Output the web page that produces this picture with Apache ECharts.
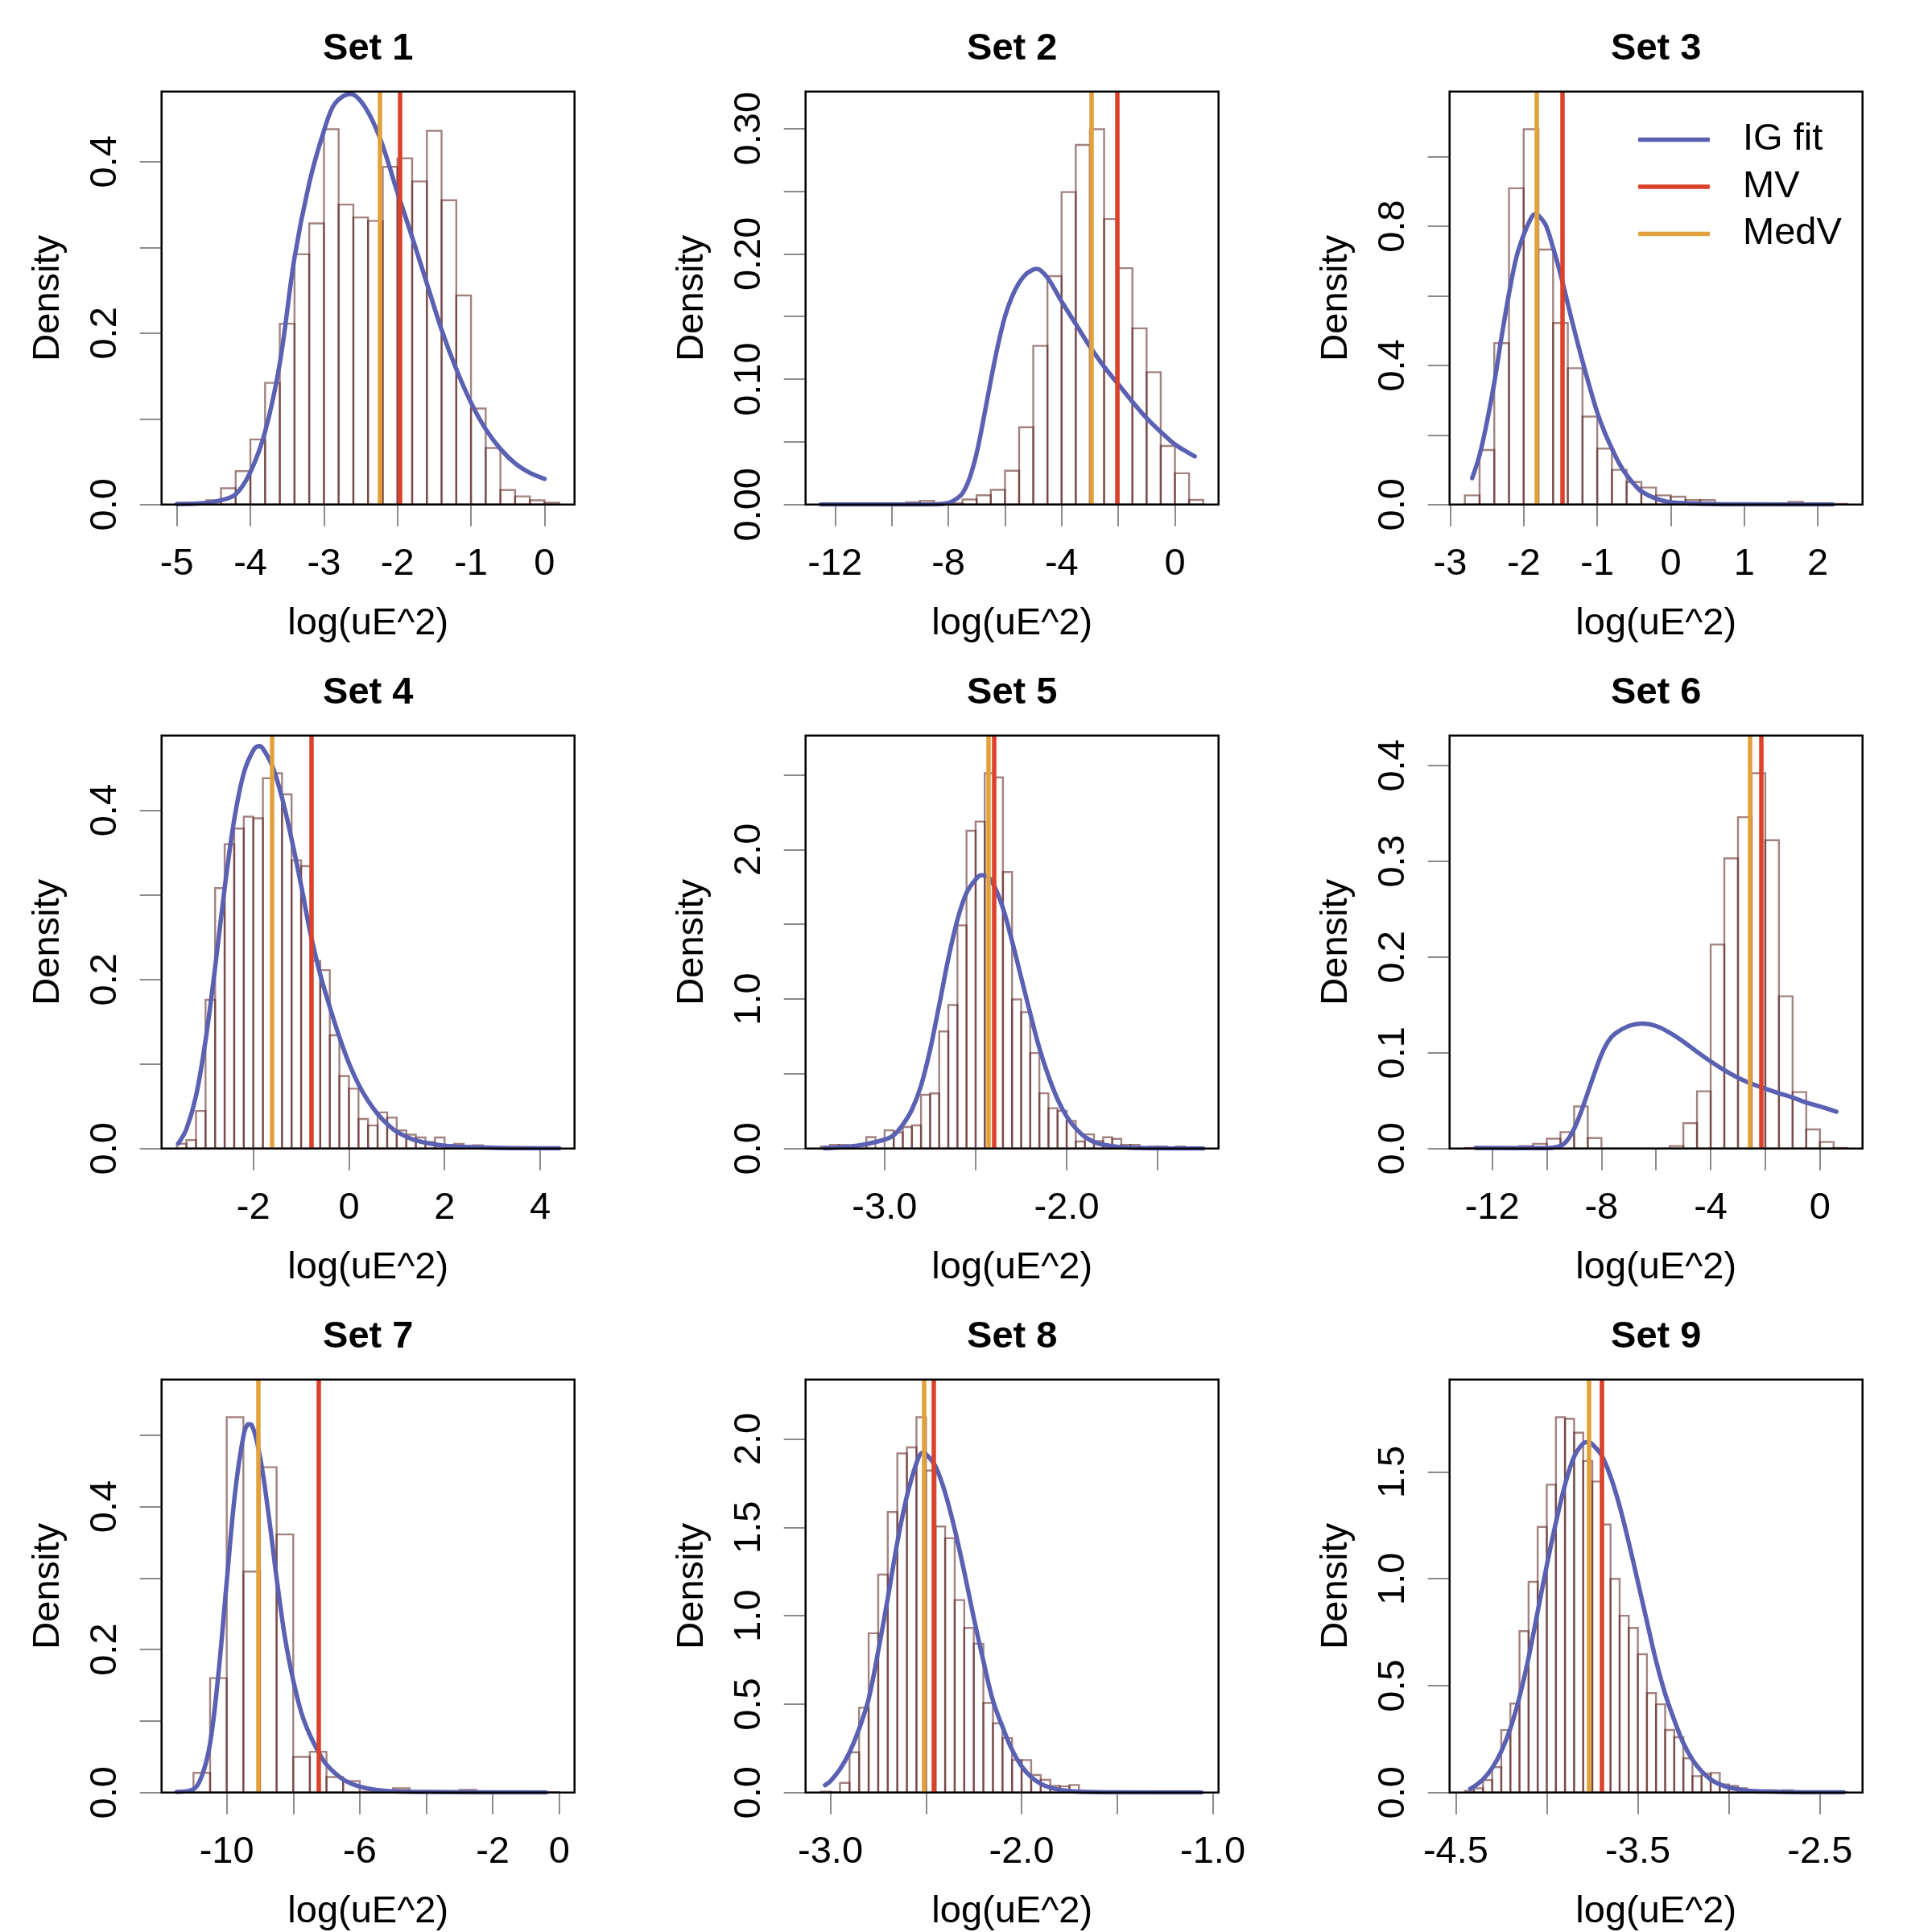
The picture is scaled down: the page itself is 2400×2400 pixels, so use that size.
<!DOCTYPE html>
<html>
<head>
<meta charset="utf-8">
<script src="https://cdn.jsdelivr.net/npm/echarts@6/dist/echarts.min.js"></script>
<style>
html,body{margin:0;padding:0;background:#ffffff;}
#chart{width:2400px;height:2400px;}
</style>
</head>
<body>
<div id="chart"></div>
<script>
// ---------------- DATA ----------------
// Set 1
const set1BinStart = -5, set1BinWidth = 0.2;
const set1Density = [0.002,0.002,0.005,0.019,0.039,0.076,0.142,0.211,0.292,0.328,0.438,0.350,0.335,0.331,0.394,0.404,0.377,0.436,0.355,0.244,0.112,0.066,0.017,0.0096,0.005,0.0023];
const set1CurveX = [-5.0,-4.6,-4.4,-4.2,-4.0,-3.8,-3.6,-3.4,-3.2,-3.0,-2.85,-2.64,-2.45,-2.24,-2.0,-1.8,-1.6,-1.4,-1.2,-1.0,-0.8,-0.6,-0.4,-0.2,0.0];
const set1CurveY = [0.0005,0.002,0.005,0.012,0.038,0.085,0.165,0.288,0.375,0.436,0.468,0.479,0.465,0.428,0.364,0.312,0.258,0.204,0.158,0.119,0.088,0.065,0.048,0.037,0.030];
const set1MV = -1.97, set1MedV = -2.24;
const set1XTicks = [-5,-4,-3,-2,-1,0], set1XLabels = [-5,-4,-3,-2,-1,0];
const set1YTicks = [0,0.1,0.2,0.3,0.4], set1YLabels = [0,0.2,0.4];

// Set 2
const set2BinStart = -12.5, set2BinWidth = 0.5;
const set2Density = [0.0005,0,0,0,0,0,0.0018,0.003,0.0008,0.001,0.004,0.0074,0.0118,0.027,0.0617,0.1266,0.1823,0.2493,0.2869,0.2995,0.2278,0.1886,0.1406,0.1056,0.0468,0.025,0.0037];
const set2CurveX = [-12.5,-10,-8.5,-8.0,-7.75,-7.5,-7.25,-7.0,-6.75,-6.5,-6.25,-6.0,-5.75,-5.5,-5.25,-5.0,-4.9,-4.75,-4.5,-4.25,-4.0,-3.5,-3.0,-2.5,-2.0,-1.5,-1.0,-0.5,0,0.5,0.7];
const set2CurveY = [0,0,0.0002,0.0013,0.004,0.009,0.021,0.041,0.069,0.099,0.127,0.150,0.166,0.177,0.184,0.1875,0.188,0.187,0.181,0.172,0.162,0.144,0.126,0.110,0.096,0.082,0.069,0.058,0.048,0.041,0.0385];
const set2MV = -2.034, set2MedV = -2.945;
const set2XTicks = [-12,-10,-8,-6,-4,-2,0], set2XLabels = [-12,-8,-4,0];
const set2YTicks = [0,0.05,0.1,0.15,0.2,0.25,0.3], set2YLabels = [0,0.1,0.2,0.3];

// Set 3
const set3BinStart = -2.8, set3BinWidth = 0.2;
const set3Density = [0.0265,0.157,0.464,0.909,1.079,0.733,0.522,0.392,0.253,0.161,0.100,0.065,0.049,0.0265,0.0227,0.013,0.013,0.002,0,0,0,0,0.0076,0,0,0.002];
const set3CurveX = [-2.7,-2.6,-2.5,-2.4,-2.3,-2.2,-2.1,-2.0,-1.9,-1.85,-1.8,-1.7,-1.6,-1.5,-1.4,-1.3,-1.2,-1.1,-1.0,-0.9,-0.8,-0.7,-0.6,-0.5,-0.4,-0.2,0,0.5,1.0,2.2];
const set3CurveY = [0.076,0.142,0.237,0.350,0.483,0.606,0.710,0.775,0.823,0.835,0.831,0.803,0.738,0.663,0.577,0.492,0.412,0.336,0.265,0.208,0.161,0.118,0.085,0.059,0.038,0.017,0.0066,0.002,0.0005,0.0];
const set3MV = -1.482, set3MedV = -1.829;
const set3XTicks = [-3,-2,-1,0,1,2], set3XLabels = [-3,-2,-1,0,1,2];
const set3YTicks = [0,0.2,0.4,0.6,0.8,1.0], set3YLabels = [0,0.4,0.8];

// Set 4
const set4BinStart = -3.6, set4BinWidth = 0.2;
const set4Density = [0.0058,0.010,0.0444,0.176,0.308,0.360,0.3785,0.3925,0.3906,0.438,0.444,0.419,0.341,0.334,0.222,0.211,0.134,0.0857,0.0709,0.035,0.0273,0.0428,0.0366,0.0214,0.0164,0.0132,0.0078,0.0132,0.0039,0.0055,0.0031,0.0039,0.002,0.0016,0.001,0.0008,0.0005,0.0005,0.0004,0.0004];
const set4CurveX = [-3.57,-3.4,-3.2,-3.0,-2.8,-2.6,-2.4,-2.2,-2.0,-1.88,-1.8,-1.6,-1.4,-1.2,-1.0,-0.8,-0.6,-0.4,-0.2,0,0.2,0.4,0.6,0.8,1.0,1.4,2.0,3.0,4.4];
const set4CurveY = [0.006,0.023,0.062,0.128,0.214,0.308,0.389,0.444,0.471,0.476,0.473,0.452,0.415,0.366,0.3115,0.253,0.206,0.1674,0.132,0.101,0.076,0.0565,0.041,0.029,0.020,0.0097,0.0035,0.001,0.0003];
const set4MV = -0.792, set4MedV = -1.606;
const set4XTicks = [-2,0,2,4], set4XLabels = [-2,0,2,4];
const set4YTicks = [0,0.1,0.2,0.3,0.4], set4YLabels = [0,0.2,0.4];

// Set 5
const set5BinStart = -3.35, set5BinWidth = 0.05;
const set5Density = [0.014,0.025,0.025,0,0.025,0.077,0,0.122,0.108,0.144,0.155,0.36,0.369,0.784,0.960,1.493,2.126,2.187,2.511,2.482,1.850,0.998,0.912,0.639,0.370,0.27,0.252,0.185,0.047,0.095,0.05,0.0755,0.065,0.025,0.025,0.005,0.014,0.014,0,0.014,0.005,0.002];
const set5CurveX = [-3.33,-3.2,-3.1,-3.0,-2.95,-2.9,-2.85,-2.8,-2.75,-2.7,-2.65,-2.6,-2.55,-2.5,-2.47,-2.44,-2.4,-2.35,-2.3,-2.25,-2.2,-2.15,-2.1,-2.05,-2.0,-1.95,-1.9,-1.85,-1.8,-1.7,-1.6,-1.5,-1.25];
const set5CurveY = [0.002,0.012,0.03,0.06,0.09,0.16,0.26,0.42,0.66,0.96,1.27,1.53,1.71,1.80,1.828,1.824,1.762,1.608,1.388,1.145,0.903,0.672,0.485,0.330,0.215,0.135,0.078,0.044,0.026,0.009,0.004,0.001,0];
const set5MV = -2.404, set5MedV = -2.433;
const set5XTicks = [-3,-2.5,-2,-1.5], set5XLabels = [-3,-2];
const set5YTicks = [0,0.5,1,1.5,2,2.5], set5YLabels = [0,1,2];

// Set 6
const set6BinStart = -13, set6BinWidth = 0.5;
const set6Density = [0.0007,0.0005,0.0005,0.0007,0.0027,0.005,0.0103,0.0172,0.044,0.011,0,0,0,0,0,0.0027,0.0265,0.0598,0.213,0.303,0.346,0.392,0.322,0.159,0.059,0.020,0.0069,0.0007];
const set6CurveX = [-12.6,-10.0,-9.5,-9.25,-9.0,-8.75,-8.5,-8.25,-8.0,-7.75,-7.5,-7.0,-6.5,-6.0,-5.5,-5.0,-4.5,-4.0,-3.5,-3.0,-2.5,-2.0,-1.5,-1.0,-0.5,0,0.5,0.6];
const set6CurveY = [0.0007,0.0005,0.0027,0.0086,0.0206,0.0378,0.0584,0.079,0.098,0.112,0.120,0.128,0.1306,0.128,0.121,0.1117,0.101,0.091,0.0818,0.0739,0.0677,0.0625,0.0577,0.0533,0.0481,0.044,0.0395,0.0385];
const set6MV = -2.137, set6MedV = -2.568;
const set6XTicks = [-12,-10,-8,-6,-4,-2,0], set6XLabels = [-12,-8,-4,0];
const set6YTicks = [0,0.1,0.2,0.3,0.4], set6YLabels = [0,0.1,0.2,0.3,0.4];

// Set 7
const set7BinStart = -11.5, set7BinWidth = 0.5;
const set7Density = [0.001,0.0276,0.160,0.525,0.309,0.455,0.361,0.0498,0.0571,0.0217,0.0161,0.001,0,0.006,0,0,0,0.0037,0,0,0,0,0.0005];
const set7CurveX = [-11.5,-11.0,-10.75,-10.5,-10.25,-10.0,-9.75,-9.5,-9.35,-9.25,-9.0,-8.75,-8.5,-8.25,-8.0,-7.75,-7.5,-7.25,-7.0,-6.5,-6.0,-5.5,-5.0,-4.0,-0.4];
const set7CurveY = [0.001,0.0046,0.023,0.069,0.166,0.295,0.419,0.498,0.515,0.514,0.470,0.392,0.300,0.217,0.157,0.111,0.0806,0.0576,0.0392,0.0184,0.0083,0.0037,0.0018,0.0009,0.0];
const set7MV = -7.236, set7MedV = -9.05;
const set7XTicks = [-10,-8,-6,-4,-2,0], set7XLabels = [-10,-6,-2,0];
const set7YTicks = [0,0.1,0.2,0.3,0.4,0.5], set7YLabels = [0,0.2,0.4];

// Set 8
const set8BinStart = -3.05, set8BinWidth = 0.05;
const set8Density = [0.005,0.002,0.055,0.228,0.48,0.901,1.233,1.587,1.918,1.952,2.123,1.821,1.505,1.438,1.089,0.931,0.842,0.507,0.392,0.308,0.184,0.184,0.099,0.072,0.038,0.035,0.043,0.006,0.002,0.002,0,0,0,0,0,0,0,0,0,0];
const set8CurveX = [-3.028,-3.0,-2.95,-2.9,-2.85,-2.8,-2.75,-2.7,-2.65,-2.6,-2.55,-2.52,-2.5,-2.45,-2.4,-2.35,-2.3,-2.25,-2.2,-2.15,-2.1,-2.05,-2.0,-1.95,-1.9,-1.85,-1.8,-1.7,-1.5,-1.06];
const set8CurveY = [0.042,0.065,0.132,0.228,0.36,0.53,0.80,1.099,1.415,1.676,1.862,1.92,1.914,1.844,1.695,1.490,1.248,0.987,0.745,0.52,0.372,0.242,0.149,0.0875,0.050,0.028,0.015,0.005,0.001,0.0];
const set8MV = -2.461, set8MedV = -2.511;
const set8XTicks = [-3,-2.5,-2,-1.5,-1], set8XLabels = [-3,-2,-1];
const set8YTicks = [0,0.5,1,1.5,2], set8YLabels = [0,0.5,1,1.5,2];

// Set 9
const set9BinStart = -4.45, set9BinWidth = 0.05;
const set9Density = [0.0077,0.020,0.0585,0.1186,0.2926,0.416,0.755,0.986,1.243,1.44,1.756,1.748,1.683,1.551,1.455,1.254,1.0,0.827,0.770,0.647,0.465,0.413,0.293,0.259,0.160,0.077,0.088,0.092,0.0385,0.031,0.020,0.0123,0.0077,0.011,0.0077,0.011,0.0046,0.0046,0.0015,0.0015,0,0.0015];
const set9CurveX = [-4.42,-4.4,-4.35,-4.3,-4.25,-4.2,-4.15,-4.1,-4.05,-4.0,-3.95,-3.9,-3.85,-3.8,-3.77,-3.75,-3.7,-3.65,-3.6,-3.55,-3.5,-3.45,-3.4,-3.35,-3.3,-3.25,-3.2,-3.15,-3.1,-3.05,-3.0,-2.9,-2.8,-2.6,-2.37];
const set9CurveY = [0.018,0.028,0.062,0.115,0.193,0.30,0.447,0.631,0.847,1.063,1.263,1.44,1.571,1.633,1.640,1.629,1.579,1.478,1.34,1.17,0.986,0.80,0.616,0.462,0.339,0.231,0.154,0.100,0.0616,0.0385,0.023,0.009,0.0046,0.0015,0.0008];
const set9MV = -3.704, set9MedV = -3.766;
const set9XTicks = [-4.5,-4,-3.5,-3,-2.5], set9XLabels = [-4.5,-3.5,-2.5];
const set9YTicks = [0,0.5,1,1.5], set9YLabels = [0,0.5,1,1.5];

const setTitles = ['Set 1','Set 2','Set 3','Set 4','Set 5','Set 6','Set 7','Set 8','Set 9'];
const xLabelDecimals = [0,0,0,0,1,0,0,1,1];
const yLabelDecimals = [1,2,1,1,1,1,1,1,1];
const legendNames = ['IG fit','MV','MedV'];

// ---------------- STYLE / LAYOUT ----------------
const FONT = 'Liberation Sans, Arial, Helvetica, sans-serif';
const BLUE = '#5A61B3', RED = '#DD4129', ORANGE = '#E2A13A';
const BAR_STROKE = 'rgba(88,30,26,0.55)';
const PANEL = 800, BOX_L = 200.7, BOX_T = 113.8, BOX_W = 513, BOX_H = 513;
const FS = 47;

const sets = [
  [set1BinStart,set1BinWidth,set1Density,set1CurveX,set1CurveY,set1MV,set1MedV,set1XTicks,set1XLabels,set1YTicks,set1YLabels],
  [set2BinStart,set2BinWidth,set2Density,set2CurveX,set2CurveY,set2MV,set2MedV,set2XTicks,set2XLabels,set2YTicks,set2YLabels],
  [set3BinStart,set3BinWidth,set3Density,set3CurveX,set3CurveY,set3MV,set3MedV,set3XTicks,set3XLabels,set3YTicks,set3YLabels],
  [set4BinStart,set4BinWidth,set4Density,set4CurveX,set4CurveY,set4MV,set4MedV,set4XTicks,set4XLabels,set4YTicks,set4YLabels],
  [set5BinStart,set5BinWidth,set5Density,set5CurveX,set5CurveY,set5MV,set5MedV,set5XTicks,set5XLabels,set5YTicks,set5YLabels],
  [set6BinStart,set6BinWidth,set6Density,set6CurveX,set6CurveY,set6MV,set6MedV,set6XTicks,set6XLabels,set6YTicks,set6YLabels],
  [set7BinStart,set7BinWidth,set7Density,set7CurveX,set7CurveY,set7MV,set7MedV,set7XTicks,set7XLabels,set7YTicks,set7YLabels],
  [set8BinStart,set8BinWidth,set8Density,set8CurveX,set8CurveY,set8MV,set8MedV,set8XTicks,set8XLabels,set8YTicks,set8YLabels],
  [set9BinStart,set9BinWidth,set9Density,set9CurveX,set9CurveY,set9MV,set9MedV,set9XTicks,set9XLabels,set9YTicks,set9YLabels]
];

const grids = [], xAxes = [], yAxes = [], series = [], titles = [];

sets.forEach(function (s, i) {
  const [binStart, binWidth, dens, cx, cy, mv, medv, xTicks, xLabels, yTicks, yLabels] = s;
  const col = i % 3, row = Math.floor(i / 3);
  const left = col * PANEL + BOX_L, top = row * PANEL + BOX_T;
  const histEnd = binStart + dens.length * binWidth;
  const span = histEnd - binStart;
  const xMin = binStart - 0.04 * span, xMax = histEnd + 0.04 * span;
  const yMax = Math.max.apply(null, dens) * 1.1;
  const xd = xLabelDecimals[i], yd = yLabelDecimals[i];

  grids.push({left: left, top: top, width: BOX_W, height: BOX_H, show: true,
    borderColor: '#000', borderWidth: 2.5, backgroundColor: 'transparent', z: 10});

  xAxes.push({
    gridIndex: i, type: 'value', min: xMin, max: xMax,
    axisLine: {show: false, onZero: false}, splitLine: {show: false},
    axisTick: {show: true, length: 27, lineStyle: {color: '#6f6f6f', width: 1.6}, customValues: xTicks},
    axisLabel: {customValues: xLabels, formatter: function (v) { return Number(v).toFixed(xd); },
      fontSize: FS, color: '#000', fontFamily: FONT, margin: 51},
    name: 'log(uE^2)', nameLocation: 'middle', nameGap: 125,
    nameTextStyle: {fontSize: FS, color: '#000', fontFamily: FONT}
  });
  yAxes.push({
    gridIndex: i, type: 'value', min: 0, max: yMax,
    axisLine: {show: false, onZero: false}, splitLine: {show: false},
    axisTick: {show: true, length: 27, lineStyle: {color: '#6f6f6f', width: 1.6}, customValues: yTicks},
    axisLabel: {customValues: yLabels, formatter: function (v) { return Number(v).toFixed(yd); },
      rotate: 90, fontSize: FS, color: '#000', fontFamily: FONT, margin: 46},
    name: 'Density', nameLocation: 'middle', nameRotate: 90, nameGap: 117,
    nameTextStyle: {fontSize: FS, color: '#000', fontFamily: FONT}
  });

  const histData = dens.map(function (d, k) {
    return [binStart + k * binWidth, binStart + (k + 1) * binWidth, d];
  });
  series.push({
    type: 'custom', name: 'hist' + (i + 1), xAxisIndex: i, yAxisIndex: i, z: 2,
    encode: {x: [0, 1], y: 2}, data: histData, silent: true,
    renderItem: function (params, api) {
      const a = api.coord([api.value(0), 0]);
      const b = api.coord([api.value(1), api.value(2)]);
      return {type: 'rect', shape: {x: a[0], y: b[1], width: b[0] - a[0], height: a[1] - b[1]},
        style: {fill: 'none', stroke: BAR_STROKE, lineWidth: 2.4}};
    }
  });
  series.push({
    type: 'line', name: 'IG fit', xAxisIndex: i, yAxisIndex: i, z: 3,
    data: cx.map(function (x, k) { return [x, cy[k]]; }),
    smooth: 0.35, symbol: 'none', silent: true,
    itemStyle: {color: BLUE},
    lineStyle: {color: BLUE, width: 5.5, cap: 'round', join: 'round'}
  });
  [['MV', mv, RED], ['MedV', medv, ORANGE]].forEach(function (m) {
    series.push({
      type: 'line', name: m[0], xAxisIndex: i, yAxisIndex: i, z: 4, data: [], symbol: 'none',
      itemStyle: {color: m[2]}, lineStyle: {color: m[2], width: 5.5},
      markLine: {silent: true, symbol: ['none', 'none'], label: {show: false}, animation: false,
        lineStyle: {color: m[2], width: 5.5, type: 'solid'}, data: [{xAxis: m[1]}]}
    });
  });

  titles.push({text: setTitles[i], left: left + BOX_W / 2, top: row * PANEL + 38, padding: 0,
    textAlign: 'center', textVerticalAlign: 'top',
    textStyle: {fontSize: FS, fontWeight: 'bold', color: '#000', fontFamily: FONT}});
});

const chart = echarts.init(document.getElementById('chart'), null, {renderer: 'canvas', width: 2400, height: 2400});
chart.setOption({
  backgroundColor: '#ffffff',
  animation: false,
  title: titles,
  legend: {
    data: legendNames, orient: 'vertical', left: 2035, top: 150, padding: 0,
    icon: 'roundRect', itemWidth: 89, itemHeight: 5.5, itemGap: 11.5, selectedMode: false,
    textStyle: {fontSize: FS, lineHeight: 46, color: '#000', fontFamily: FONT, padding: [0, 0, 0, 36]}
  },
  grid: grids, xAxis: xAxes, yAxis: yAxes, series: series
});
</script>
</body>
</html>
